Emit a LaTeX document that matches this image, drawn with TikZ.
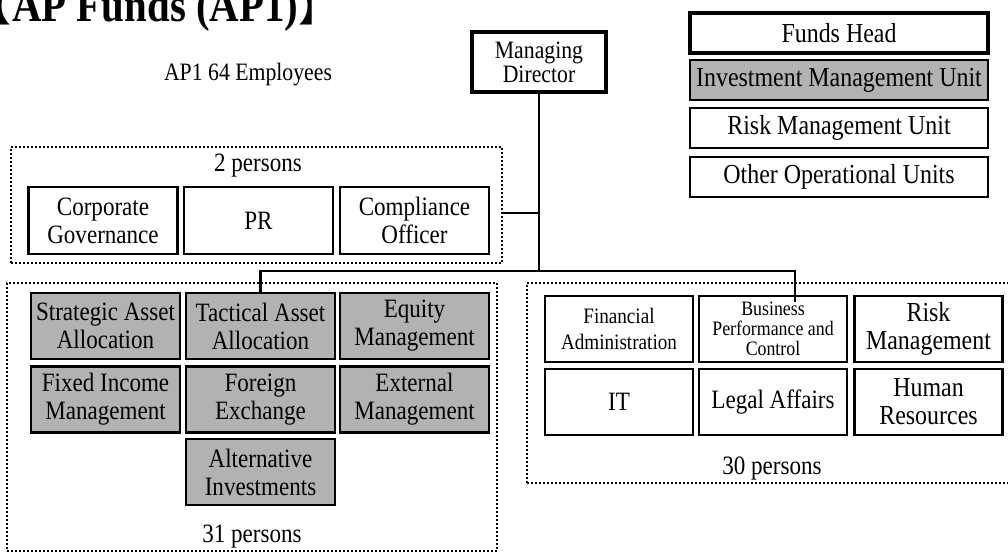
\documentclass[tikz,border=0pt]{standalone}
\usepackage{fontspec}
\setmainfont[FakeStretch=0.87]{Liberation Serif}
\newfontfamily\cjk{Noto Sans CJK SC}
\colorlet{investcolor}{black!30}
\tikzset{
    unit/.style = {draw, line width=2.6pt, inner sep=1pt, align=center,
        minimum width=149pt, minimum height=66pt, font=\fontsize{26.5}{28}\selectfont},
    invest unit/.style = {unit, fill=investcolor},
    head/.style = {unit, line width=4pt},
    legend/.style = {unit, minimum width=298pt, minimum height=40pt, font=\fontsize{27.5}{28}\selectfont},
    group/.style = {draw, line width=2pt, dash pattern=on 2pt off 2pt},
    caption/.style = {inner sep=0pt, font=\fontsize{26.5}{28}\selectfont},
    link/.style = {line width=2.2pt}
}

\begin{document}
\begin{tikzpicture}[x=1pt, y=-1pt]
    \useasboundingbox (0,0) rectangle (1008,553);
    % title
    \node[anchor=base west, inner sep=0pt, font=\fontsize{47}{47}\selectfont\bfseries] (title) at (12,22) {AP Funds (AP1)};
    \node[anchor=base east, inner sep=0pt, font=\fontsize{41}{41}\selectfont\cjk] (lbrack) at (title.base west) {【};
    \node[anchor=base west, inner sep=0pt, font=\fontsize{41}{41}\selectfont\cjk] (rbrack) at (title.base east) {】};
    \node[caption, font=\fontsize{25}{26}\selectfont] (staffcount) at (248,75) {AP1 64 Employees};
    % draw groups
    \node[group, minimum width=491pt, minimum height=116pt] (staffgrp) at (256.5,205) {};
    \node[group, minimum width=490pt, minimum height=268pt] (investgrp) at (252,417) {};
    \node[group, minimum width=485pt, minimum height=200pt] (opsgrp) at (769.5,383) {};
    \node[caption] (staffnum) at (258,166) {2 persons};
    \node[caption] (investnum) at (252,537) {31 persons};
    \node[caption] (opsnum) at (772,469) {30 persons};
    % managing director
    \node[head, minimum width=134pt, minimum height=60pt, font=\fontsize{25}{24}\selectfont] (md) at (539,62) {Managing\\Director};
    % staff functions
    \foreach \x/\name/\txt in {103/corpgov/{Corporate\\Governance}, 258.5/pr/{PR}, 414.5/compliance/{Compliance\\Officer}}
        \node[unit, minimum height=67pt] (\name) at (\x,220.5) {\txt};
    % investment management units
    \foreach \x/\y/\name/\txt in {105.5/326/saa/{Strategic Asset\\Allocation}, 260.5/326/taa/{Tactical Asset\\Allocation},
        414.5/326/equity/{Equity\\Management}, 105.5/399.5/fixinc/{Fixed Income\\Management},
        260.5/399.5/forex/{Foreign\\Exchange}, 414.5/399.5/external/{External\\Management},
        260.5/472/altinv/{Alternative\\Investments}}
        \node[invest unit] (\name) at (\x,\y) {\txt};
    % operational units
    \node[unit, minimum width=148pt, font=\fontsize{22}{26}\selectfont] (finadmin) at (619,329) {Financial\\Administration};
    \node[unit, minimum width=148pt, font=\fontsize{20.5}{20}\selectfont] (business) at (773,329) {Business\\Performance and\\Control};
    \node[unit, minimum width=148pt, font=\fontsize{27.5}{28}\selectfont] (risk) at (928.5,329) {Risk\\Management};
    \node[unit, minimum width=148pt] (it) at (619,402) {IT};
    \node[unit, minimum width=148pt] (legal) at (773,402) {Legal Affairs};
    \node[unit, minimum width=148pt, font=\fontsize{27.5}{28}\selectfont] (hr) at (928.5,402) {Human\\Resources};
    % legend
    \node[legend, line width=4pt] (leghead) at (839,33) {Funds Head};
    \node[legend, fill=investcolor] (leginvest) at (839,80) {Investment Management Unit};
    \node[legend] (legrisk) at (839,128) {Risk Management Unit};
    \node[legend] (legops) at (839,177) {Other Operational Units};
    % draw connectors
    \coordinate (hub) at (539,271);
    \coordinate (tap) at (539,213);
    \coordinate (busdrop) at (795,302);
    \draw[link] (md.south) -- (hub);
    \draw[link] (tap) -- (tap -| staffgrp.east);
    \draw[link] (taa.north) |- (busdrop |- hub) -- (busdrop);
\end{tikzpicture}
\end{document}
